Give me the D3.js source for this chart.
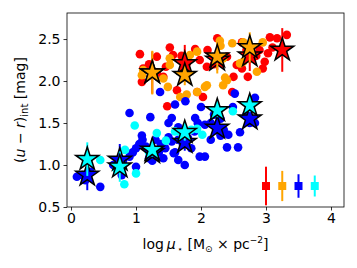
<!DOCTYPE html>
<html>
<head>
<meta charset="utf-8">
<script src="https://cdn.jsdelivr.net/npm/d3@7"></script>
<style>
  body { margin: 0; background: #fff; }
  svg { display: block; font-family: "DejaVu Sans", sans-serif; }
</style>
</head>
<body>
<svg width="357" height="268"></svg>
<script>
// scatter points per sample, [logMu, colour]
const redPts = [[1.06,2.32],[1.09,1.99],[1.32,2.29],[1.57,2.31],[1.46,2.17],[1.91,2.38],[2.09,2.17],[2.25,2.51],
  [2.63,2.46],[2.75,2.27],[2.63,2.15],[2.72,2.05],[2.98,2.23],[3.17,2.51],[3.32,2.55],[3.03,2.33],[3.1,2.4],
  [2.55,2.19],[1.63,1.89],[1.94,1.87],[2.03,1.81],[2.48,1.87],[1.48,1.7],[1.78,2.21],[1.11,2.15],[1.32,2.1],
  [1.42,2.05],[1.98,2.25],[2.4,2.29],[2.7,2.37],[2.9,2.37],[3.06,2.52],[2.1,2.37],[1.52,2.4],[2.85,2.3],
  [2.5,2.05],[1.2,2.2],[1.7,2.3],[2.2,2.2],[2.95,2.15]];
const orangePts = [[1.52,2.27],[1.83,2.31],[1.94,2.35],[2.29,2.48],[2.48,2.45],[2.65,2.46],[2.95,2.46],[2.86,2.11],
  [2.65,2.23],[2.4,2.01],[2.34,1.95],[2.06,1.93],[1.94,1.87],[1.68,1.81],[1.49,1.93],[1.42,2.03],[1.52,2.19],
  [1.09,2.07],[2.34,2.27],[2.6,2.21],[1.11,2.13],[2.37,2.04],[2.09,1.95],[1.78,1.84],[2.3,2.42]];
const bluePts = [[0.09,0.86],[0.18,0.88],[0.3,0.92],[0.45,0.74],[0.22,0.82],[0.65,1.0],[0.72,0.95],[0.8,1.05],
  [0.9,1.1],[0.78,0.88],[1.0,0.98],[0.95,1.15],[0.9,1.62],[1.0,1.2],[1.05,1.25],[1.1,1.3],[1.09,1.35],
  [1.15,1.22],[1.2,1.08],[1.22,1.57],[1.25,1.05],[1.3,1.3],[1.35,1.15],[1.38,1.25],[1.42,1.08],[1.45,1.2],
  [1.5,1.33],[1.37,1.87],[1.55,1.56],[1.6,1.72],[1.65,1.45],[1.5,1.5],[1.6,1.15],[1.65,1.06],[1.58,1.14],
  [1.75,1.0],[1.76,1.76],[1.72,1.25],[1.8,1.32],[1.85,1.2],[1.91,1.56],[1.9,1.4],[1.98,1.1],[2.06,1.1],
  [2.0,1.69],[1.95,1.5],[2.06,1.48],[1.65,1.3],[1.55,1.28],[2.15,1.5],[2.2,1.6],[2.3,1.55],[2.35,1.42],
  [2.4,1.21],[2.42,1.36],[2.49,1.69],[2.52,1.85],[2.57,1.21],[2.6,1.39],[2.7,1.6],[2.75,1.5],[2.83,1.5],
  [2.83,1.8],[2.3,1.35],[2.15,1.3]];
const cyanPts = [[0.45,1.06],[0.83,1.18],[0.82,0.77],[1.0,0.9],[0.98,1.47],[1.32,1.38],[1.46,1.29],[1.7,1.38],
  [1.85,1.42],[1.94,1.43],[2.02,1.36],[2.49,1.64],[0.7,0.95],[1.2,1.15],[1.6,1.4]];

// binned medians with errors
const redBins = [1.25, 1.75, 2.25, 2.75, 3.25];
const redMed = [2.1, 2.21, 2.25, 2.3, 2.37];
const redErr = [0.25, 0.22, 0.12, 0.18, 0.26];
const orangeBins = [1.25, 1.75, 2.25, 2.75];
const orangeMed = [2.1, 2.07, 2.29, 2.4];
const orangeErr = [0.26, 0.12, 0.2, 0.18];
const blueBins = [0.25, 0.75, 1.25, 1.75, 2.25, 2.75];
const blueMed = [0.88, 1.06, 1.15, 1.27, 1.44, 1.55];
const blueErr = [0.18, 0.19, 0.08, 0.1, 0.08, 0.08];
const cyanBins = [0.25, 0.75, 1.25, 1.75, 2.25, 2.75];
const cyanMed = [1.07, 0.98, 1.18, 1.39, 1.65, 1.71];
const cyanErr = [0.2, 0.18, 0.08, 0.1, 0.08, 0.08];

// typical error bars in the corner
const typX = [3.0, 3.25, 3.5, 3.75];
const typY = 0.75;
const typErr = [0.23, 0.18, 0.14, 0.125];
const colors = ["#ff0000", "#ffa500", "#0000ff", "#00ffff"];

const xTicks = [0, 1, 2, 3, 4];
const yTicks = [0.5, 1.0, 1.5, 2.0, 2.5];

const svg = d3.select("svg");
const margin = {left: 67, right: 13, top: 13, bottom: 61};
const width = 357 - margin.left - margin.right,
    height = 268 - margin.top - margin.bottom;

const x = d3.scaleLinear().domain([-0.062, 4.2]).range([0, width]);
const y = d3.scaleLinear().domain([0.5, 2.81]).range([height, 0]);

const g = svg.append("g").attr("transform", `translate(${margin.left},${margin.top})`);

// scatter
[redPts, orangePts, bluePts, cyanPts].forEach((pts, i) => {
  g.append("g").selectAll("circle")
    .data(pts)
    .enter().append("circle")
      .attr("cx", d => x(d[0]))
      .attr("cy", d => y(d[1]))
      .attr("r", 4.3)
      .attr("fill", colors[i]);
});

// median stars with error bars
const star = d3.symbol().type(d3.symbolStar).size(165);
const sets = [[redBins, redMed, redErr], [orangeBins, orangeMed, orangeErr],
  [blueBins, blueMed, blueErr], [cyanBins, cyanMed, cyanErr]];
sets.forEach((s, i) => {
  const data = s[0].map((b, j) => ({x: b, y: s[1][j], e: s[2][j]}));
  const grp = g.append("g");
  grp.selectAll("line")
    .data(data)
    .enter().append("line")
      .attr("x1", d => x(d.x)).attr("x2", d => x(d.x))
      .attr("y1", d => y(d.y - d.e)).attr("y2", d => y(d.y + d.e))
      .attr("stroke", colors[i]).attr("stroke-width", 2);
  grp.selectAll("path")
    .data(data)
    .enter().append("path")
      .attr("d", star)
      .attr("transform", d => `translate(${x(d.x)},${y(d.y)})`)
      .attr("fill", colors[i])
      .attr("stroke", "#000").attr("stroke-width", 1.5)
      .attr("stroke-linejoin", "miter");
});

// typical errors
const typ = typX.map((v, i) => ({x: v, e: typErr[i], c: colors[i]}));
g.append("g").selectAll("line")
  .data(typ)
  .enter().append("line")
    .attr("x1", d => x(d.x)).attr("x2", d => x(d.x))
    .attr("y1", d => y(typY - d.e)).attr("y2", d => y(typY + d.e))
    .attr("stroke", d => d.c).attr("stroke-width", 2);
g.append("g").selectAll("rect")
  .data(typ)
  .enter().append("rect")
    .attr("x", d => x(d.x) - 4).attr("y", y(typY) - 4)
    .attr("width", 8).attr("height", 8)
    .attr("fill", d => d.c);

// axes
const xAxis = g.append("g").attr("transform", `translate(0,${height})`)
  .call(d3.axisBottom(x).tickValues(xTicks).tickFormat(d3.format("d")).tickSize(3.5).tickPadding(3));
const yAxis = g.append("g")
  .call(d3.axisLeft(y).tickValues(yTicks).tickFormat(d3.format(".1f")).tickSize(3.5).tickPadding(3));
[xAxis, yAxis].forEach(a => {
  a.select(".domain").remove();
  a.selectAll("text").attr("font-size", 14).attr("font-family", "DejaVu Sans").attr("fill", "#000");
  a.selectAll("line").attr("stroke", "#000").attr("stroke-width", 0.8);
});

g.append("rect")
  .attr("width", width).attr("height", height)
  .attr("fill", "none").attr("stroke", "#000").attr("stroke-width", 0.8);

// axis labels
const xl = svg.append("text")
  .attr("x", margin.left + width / 2).attr("y", 249)
  .attr("text-anchor", "middle").attr("font-size", 14);
xl.append("tspan").text("log");
xl.append("tspan").attr("font-style", "italic").text("\u2009\u03bc");
xl.append("tspan").attr("font-size", 9).attr("dy", 3).text("\u2009\u22c6");
xl.append("tspan").attr("dy", -3).text(" [M");
xl.append("tspan").attr("font-size", 9).attr("dy", 3).text("\u2299");
xl.append("tspan").attr("dy", -3).text(" \u00d7 pc");
xl.append("tspan").attr("font-size", 9).attr("dy", -6).text("\u22122");
xl.append("tspan").attr("dy", 6).text("]");

const yl = svg.append("text")
  .attr("transform", `translate(25,${margin.top + height / 2}) rotate(-90)`)
  .attr("text-anchor", "middle").attr("font-size", 14);
yl.append("tspan").text("(");
yl.append("tspan").attr("font-style", "italic").text("u");
yl.append("tspan").text(" \u2212 ");
yl.append("tspan").attr("font-style", "italic").text("r");
yl.append("tspan").text(")");
yl.append("tspan").attr("font-size", 10).attr("dy", 3).text("int");
yl.append("tspan").attr("dy", -3).text(" [mag]");
</script>
</body>
</html>
